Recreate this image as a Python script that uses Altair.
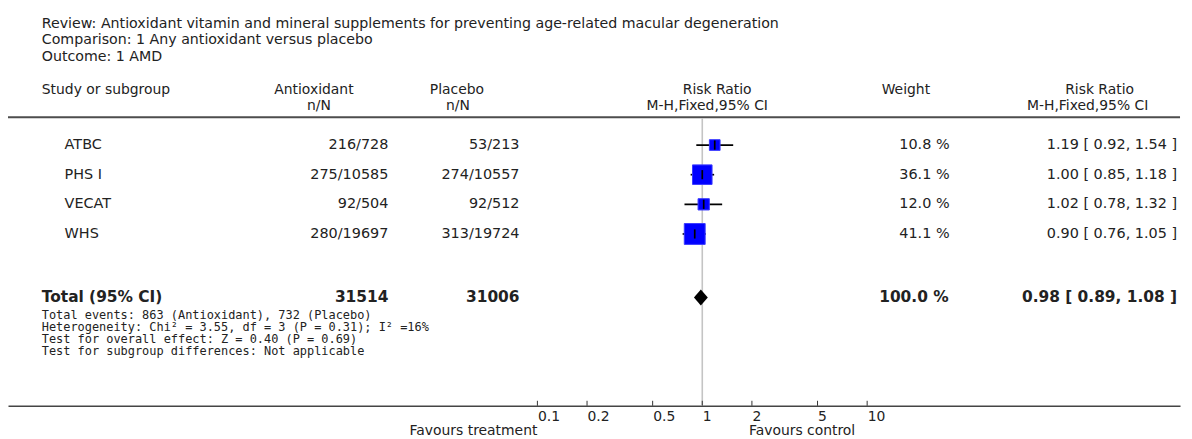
import math
import altair as alt
import pandas as pd

# ------------------------------------------------------------------ data
studies = ["ATBC", "PHS I", "VECAT", "WHS"]
events_trt = [216, 275, 92, 280]
total_trt = [728, 10585, 504, 19697]
events_ctl = [53, 274, 92, 313]
total_ctl = [213, 10557, 512, 19724]
weights = [10.8, 36.1, 12.0, 41.1]
rr = [1.19, 1.00, 1.02, 0.90]
rr_lo = [0.92, 0.85, 0.78, 0.76]
rr_hi = [1.54, 1.18, 1.32, 1.05]

pooled_n_trt = 31514
pooled_n_ctl = 31006
pooled_weight = 100.0
pooled_rr = 0.98
pooled_lo = 0.89
pooled_hi = 1.08

axis_ticks = [0.1, 0.2, 0.5, 1, 2, 5, 10]

title_lines = [
    "Review:  Antioxidant vitamin and mineral supplements for preventing age-related macular degeneration",
    "Comparison:  1 Any antioxidant versus placebo",
    "Outcome:  1 AMD",
]
footnote_lines = [
    "Total events: 863 (Antioxidant), 732 (Placebo)",
    "Heterogeneity: Chi\u00b2 = 3.55, df = 3 (P = 0.31); I\u00b2 =16%",
    "Test for overall effect: Z = 0.40 (P = 0.69)",
    "Test for subgroup differences: Not applicable",
]
favours_left = "Favours treatment"
favours_right = "Favours control"

# ------------------------------------------------------------------ layout (page pixels)
SANS = "DejaVu Sans"
MONO = "DejaVu Sans Mono"
TXT = "#222222"
OX, OY = 8, 14
W = 1180
AXIS_Y = 407
H = AXIS_Y - OY
PAD_T = OY - 8
PAD_B = 32


def px(x):
    return x - OX


def py(y):
    return y - OY


X_ONE = 707      # page x of RR = 1
DECADE = 166     # pixels per decade
x_min = 10 ** ((0 - px(X_ONE)) / DECADE)
x_max = 10 ** ((W - px(X_ONE)) / DECADE)
xscale = alt.Scale(type="log", domain=[x_min, x_max], nice=False)

ROW0 = 144.5
STEP = 29.85
y_top = (0 - py(ROW0)) / STEP
y_bot = (H - py(ROW0)) / STEP
yscale = alt.Scale(domain=[y_top, y_bot], reverse=True, nice=False, zero=False)
TOTAL_Y = 298
TOTAL_ROW = (TOTAL_Y - ROW0) / STEP
DIAMOND_HALF = 8 / STEP

xaxis = alt.Axis(
    values=axis_ticks, format="~g", labelAlign="left", labelPadding=10.5,
    ticks=False, grid=False, title=None, domainColor="#444444", domainWidth=1.5,
    labelFont=SANS, labelFontSize=14, labelColor=TXT, labelFlush=False,
    labelOverlap=False, labelBaseline="middle",
)

# ------------------------------------------------------------------ tables
df = pd.DataFrame({
    "study": studies,
    "row": list(range(len(studies))),
    "rr": rr, "lo": rr_lo, "hi": rr_hi, "w": weights,
})
df["trt"] = [f"{e}/{n}" for e, n in zip(events_trt, total_trt)]
df["ctl"] = [f"{e}/{n}" for e, n in zip(events_ctl, total_ctl)]
df["wtxt"] = [f"{w:.1f} %" for w in weights]
df["rrtxt"] = [f"{r:.2f} [ {l:.2f}, {h:.2f} ]" for r, l, h in zip(rr, rr_lo, rr_hi)]

tot = pd.DataFrame({
    "row": [TOTAL_ROW],
    "trt": [str(pooled_n_trt)], "ctl": [str(pooled_n_ctl)],
    "wtxt": [f"{pooled_weight:.1f} %"],
    "rrtxt": [f"{pooled_rr:.2f} [ {pooled_lo:.2f}, {pooled_hi:.2f} ]"],
})
diamond = pd.DataFrame({"x": [pooled_lo, pooled_rr, pooled_hi], "k": [0, 1, 0]})
one = pd.DataFrame({"a": [0]})

X = lambda f: alt.X(f, scale=xscale, axis=xaxis)
Y = lambda f: alt.Y(f, scale=yscale, axis=None)


def label(text, x, y, align="left", size=14, weight="normal", font=SANS):
    return alt.Chart(one).mark_text(
        text=text, align=align, baseline="middle", font=font, fontSize=size,
        fontWeight=weight, color=TXT,
    ).encode(x=alt.value(px(x)), y=alt.value(py(y)))


layers = []

# reference line at RR = 1
layers.append(
    alt.Chart(pd.DataFrame({"x": [1]})).mark_rule(color="#c4c4c4", strokeWidth=1.6)
    .encode(x=X("x:Q"), y=alt.value(py(118)), y2=alt.value(H))
)
# header underline
layers.append(
    alt.Chart(one).mark_rule(color="#4d4d4d", strokeWidth=2)
    .encode(x=alt.value(0), x2=alt.value(W), y=alt.value(py(116.5)))
)
# axis ticks (pointing up)
layers.append(
    alt.Chart(pd.DataFrame({"t": axis_ticks})).mark_rule(color="#333333", strokeWidth=1)
    .encode(x=X("t:Q"), y=alt.value(H - 5), y2=alt.value(H))
)
# CI lines
layers.append(
    alt.Chart(df).mark_rule(color="black", strokeWidth=1.7)
    .encode(x=X("lo:Q"), x2="hi:Q", y=Y("row:Q"))
)
# squares
layers.append(
    alt.Chart(df).mark_square(fill="#0000ff", stroke="#3b3bff", strokeWidth=1, opacity=1)
    .encode(x=X("rr:Q"), y=Y("row:Q"),
            size=alt.Size("w:Q", scale=alt.Scale(domain=[0, 100], range=[0, 1075]), legend=None))
)
# point-estimate tick
layers.append(
    alt.Chart(df).mark_point(shape="M0,-1L0,1", filled=False, stroke="black",
                             strokeWidth=1.7, size=85, opacity=1)
    .encode(x=X("rr:Q"), y=Y("row:Q"))
)
# pooled diamond
layers.append(
    alt.Chart(diamond)
    .transform_calculate(ya=f"{TOTAL_ROW} - datum.k * {DIAMOND_HALF}",
                         yb=f"{TOTAL_ROW} + datum.k * {DIAMOND_HALF}")
    .mark_area(color="black", opacity=1)
    .encode(x=X("x:Q"), y=alt.Y("ya:Q", scale=yscale, axis=None, stack=None), y2="yb:Q")
)

# study rows text
common = dict(baseline="middle", font=SANS, fontSize=14.5, color=TXT)
layers.append(alt.Chart(df).mark_text(align="left", **common)
              .encode(x=alt.value(px(65)), y=Y("row:Q"), text="study:N"))
layers.append(alt.Chart(df).mark_text(align="right", **common)
              .encode(x=alt.value(px(391)), y=Y("row:Q"), text="trt:N"))
layers.append(alt.Chart(df).mark_text(align="right", **common)
              .encode(x=alt.value(px(523)), y=Y("row:Q"), text="ctl:N"))
layers.append(alt.Chart(df).mark_text(align="right", **common)
              .encode(x=alt.value(px(956)), y=Y("row:Q"), text="wtxt:N"))
layers.append(alt.Chart(df).mark_text(align="right", **common)
              .encode(x=alt.value(px(1185)), y=Y("row:Q"), text="rrtxt:N"))

# total row text
BFS = 15.5
bold = dict(baseline="middle", font=SANS, fontSize=BFS, fontWeight="bold", color=TXT)
layers.append(label("Total (95% CI)", 42, TOTAL_Y, size=BFS, weight="bold"))
layers.append(alt.Chart(tot).mark_text(align="right", **bold)
              .encode(x=alt.value(px(391)), y=Y("row:Q"), text="trt:N"))
layers.append(alt.Chart(tot).mark_text(align="right", **bold)
              .encode(x=alt.value(px(523)), y=Y("row:Q"), text="ctl:N"))
layers.append(alt.Chart(tot).mark_text(align="right", **bold)
              .encode(x=alt.value(px(955)), y=Y("row:Q"), text="wtxt:N"))
layers.append(alt.Chart(tot).mark_text(align="right", **bold)
              .encode(x=alt.value(px(1185)), y=Y("row:Q"), text="rrtxt:N"))

# title block
for i, t in enumerate(title_lines):
    layers.append(label(t, 42, 22.5 + i * 16.6, size=14.3))

# headers
HS = 14
layers.append(label("Study or subgroup", 42, 89, size=HS))
layers.append(label("Antioxidant", 316, 89, align="center", size=HS))
layers.append(label("n/N", 321, 105, align="center", size=HS))
layers.append(label("Placebo", 460, 89, align="center", size=HS))
layers.append(label("n/N", 461, 105, align="center", size=HS))
layers.append(label("Risk Ratio", 722, 89, align="center", size=HS))
layers.append(label("M-H,Fixed,95% CI", 712, 105, align="center", size=HS))
layers.append(label("Weight", 912, 89, align="center", size=HS))
layers.append(label("Risk Ratio", 1107, 89, align="center", size=HS))
layers.append(label("M-H,Fixed,95% CI", 1095, 105, align="center", size=HS))

# footnotes
for i, t in enumerate(footnote_lines):
    layers.append(label(t, 42, 316 + i * 11.9, size=12, font=MONO))

# favours labels
layers.append(label(favours_left, 541, 432.5, align="right", size=14))
layers.append(label(favours_right, 754, 432.5, align="left", size=14))

chart = (
    alt.layer(*layers)
    .properties(
        width=W, height=H,
        autosize=alt.AutoSizeParams(type="none"),
        padding={"left": 0, "top": PAD_T, "right": 4, "bottom": PAD_B},
    )
    .configure_view(stroke=None)
)

chart.save("out.html", embed_options={"renderer": "svg", "actions": False})
